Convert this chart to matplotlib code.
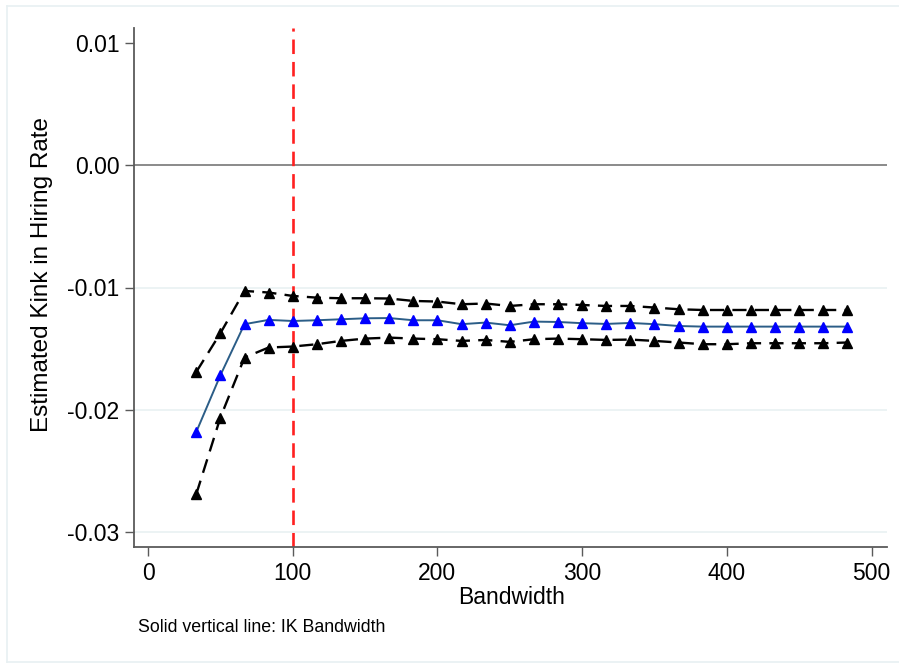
import matplotlib
matplotlib.use("Agg")
import matplotlib.pyplot as plt
from matplotlib.lines import Line2D

plt.rcParams['font.family'] = ['Liberation Sans', 'DejaVu Sans']

bandwidth = [33.33, 50.0, 66.67, 83.33, 100.0, 116.67, 133.33, 150.0, 166.67, 183.33,
             200.0, 216.67, 233.33, 250.0, 266.67, 283.33, 300.0, 316.67, 333.33, 350.0,
             366.67, 383.33, 400.0, 416.67, 433.33, 450.0, 466.67, 483.33]
estimate = [-0.02182, -0.01718, -0.01300, -0.01265, -0.01274, -0.01268, -0.01260, -0.01252,
            -0.01250, -0.01268, -0.01268, -0.01300, -0.01287, -0.01309, -0.01279, -0.01282,
            -0.01292, -0.01298, -0.01290, -0.01300, -0.01315, -0.01320, -0.01320, -0.01320,
            -0.01320, -0.01320, -0.01320, -0.01320]
upper = [-0.01691, -0.01374, -0.01028, -0.01041, -0.01069, -0.01083, -0.01088, -0.01088,
         -0.01090, -0.01110, -0.01115, -0.01137, -0.01131, -0.01151, -0.01137, -0.01137,
         -0.01143, -0.01151, -0.01151, -0.01164, -0.01178, -0.01184, -0.01184, -0.01184,
         -0.01184, -0.01184, -0.01184, -0.01184]
lower = [-0.02691, -0.02064, -0.01573, -0.01491, -0.01483, -0.01464, -0.01437, -0.01418,
         -0.01410, -0.01418, -0.01423, -0.01437, -0.01429, -0.01445, -0.01423, -0.01418,
         -0.01423, -0.01429, -0.01426, -0.01437, -0.01450, -0.01464, -0.01464, -0.01456,
         -0.01456, -0.01456, -0.01456, -0.01450]
ik_bandwidth = 100
x_ticks = [0, 100, 200, 300, 400, 500]
y_ticks = [0.01, 0.0, -0.01, -0.02, -0.03]
y_tick_labels = ["0.01", "0.00", "-0.01", "-0.02", "-0.03"]

W, H = 899, 663
fig = plt.figure(figsize=(W / 100, H / 100), dpi=100)
fig.patch.set_facecolor('white')

# outer light frame
frame_col = '#e8f0f2'
fig.add_artist(Line2D([7 / W, 1.0], [1 - 5.5 / H, 1 - 5.5 / H], color=frame_col, lw=1.2))
fig.add_artist(Line2D([7 / W, 1.0], [1 - 661.5 / H, 1 - 661.5 / H], color=frame_col, lw=1.2))
fig.add_artist(Line2D([7 / W, 7 / W], [1 - 5.5 / H, 1 - 661.5 / H], color=frame_col, lw=1.2))

left, right, top, bottom = 134, 887, 28, 547
ax = fig.add_axes([left / W, 1 - bottom / H, (right - left) / W, (bottom - top) / H])

ax.set_xlim(-9.7, 510.7)
ax.set_ylim(-0.03123, 0.01123)

# grid lines
for g in [-0.01, -0.02, -0.03]:
    ax.axhline(g, color='#eaf2f3', lw=1.3, zorder=0)
# zero line
ax.axhline(0.0, color='#8a8a8a', lw=1.4, zorder=1)
# IK bandwidth line
ax.axvline(ik_bandwidth, color='#ff2020', lw=1.9, ls=(0, (5.5, 3.0)), zorder=2)

ax.plot(bandwidth, upper, color='black', lw=1.7, ls=(0, (6, 3.5)),
        marker='^', markersize=7.8, markerfacecolor='black', markeredgecolor='black', zorder=3)
ax.plot(bandwidth, lower, color='black', lw=1.7, ls=(0, (6, 3.5)),
        marker='^', markersize=7.8, markerfacecolor='black', markeredgecolor='black', zorder=3)
ax.plot(bandwidth, estimate, color='#2b5d87', lw=1.4, zorder=4)
ax.plot(bandwidth, estimate, ls='none', marker='^', markersize=7.8,
        markerfacecolor='#0000ff', markeredgecolor='#0000ff', zorder=5)

ax.set_xticks(x_ticks)
ax.set_xticklabels([str(t) for t in x_ticks])
ax.set_yticks(y_ticks)
ax.set_yticklabels(y_tick_labels)

for s in ['top', 'right']:
    ax.spines[s].set_visible(False)
for s in ['left', 'bottom']:
    ax.spines[s].set_color('#5a5a5a')
    ax.spines[s].set_linewidth(1.3)

ax.tick_params(axis='both', colors='#5a5a5a', labelcolor='black', labelsize=16.5,
               length=6.5, width=1.0, direction='out')
ax.tick_params(axis='x', pad=4.5)
ax.tick_params(axis='y', pad=4)

fig.text(512 / W, 1 - 597 / H, 'Bandwidth', ha='center', va='center', fontsize=16.5)
fig.text(42 / W, 1 - 274 / H, 'Estimated Kink in Hiring Rate', ha='center', va='center',
         rotation=90, fontsize=17.5)
fig.text(138 / W, 1 - 627 / H, 'Solid vertical line: IK Bandwidth', ha='left', va='center',
         fontsize=12.8)

fig.savefig('out.png', dpi=100, facecolor='white')
